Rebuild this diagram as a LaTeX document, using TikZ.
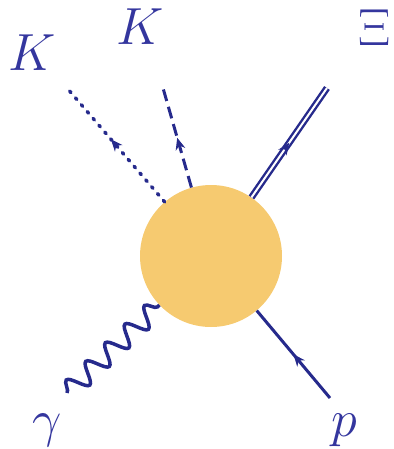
\documentclass[tikz,border=0pt]{standalone}
\usetikzlibrary{decorations.markings,decorations.pathmorphing,arrows.meta}
\definecolor{ink}{RGB}{38,42,140}
\definecolor{txt}{RGB}{52,54,158}
\definecolor{blobc}{RGB}{246,202,112}
\begin{document}
\begin{tikzpicture}[x=1pt,y=-1pt,
  lbl/.style={text=txt,inner sep=0pt,font=\Huge,scale=2.1},
  blobstyle/.style={circle,fill=blobc,minimum size=142pt,inner sep=0pt},
  leg/.style={draw=ink,line width=3pt},
  midarrow/.style={postaction={decorate,decoration={markings,mark=at position #1 with {\arrow[ink,line width=1pt]{Stealth[length=12pt,width=10pt]}}}}},
  dotline/.style={leg,line width=3.5pt,line cap=round,dash pattern=on 2pt off 7pt},
  dashline/.style={leg,dash pattern=on 12pt off 6pt},
  dblline/.style={draw=ink,line width=2.4pt,double=white,double distance=2pt},
  photon/.style={leg,line width=3.5pt,decorate,decoration={snake,amplitude=10pt,segment length=27pt}}
]
\useasboundingbox (0,0) rectangle (393,449);
\node[blobstyle] (blob) at (211,256) {};
\coordinate (k1) at (67,88);
\coordinate (k2) at (163,88);
\coordinate (xi) at (327,88);
\coordinate (g) at (67,393);
\coordinate (pp) at (330,398);
\draw[dotline,midarrow=0.55] (blob) -- (k1);
\draw[dashline,midarrow=0.5] (blob) -- (k2);
\draw[dblline,midarrow=0.5] (blob) -- (xi);
\draw[photon] (g) -- (blob);
\draw[leg,midarrow=0.5] (pp) -- (blob);
\node[lbl] (lk1) at (32,53) {$K$};
\node[lbl] (lk2) at (140,27) {$K$};
\node[lbl] (lxi) at (375,28) {$\Xi$};
\node[lbl] (lg) at (47,430) {$\gamma$};
\node[lbl] (lp) at (344,430) {$p$};
\end{tikzpicture}
\end{document}
